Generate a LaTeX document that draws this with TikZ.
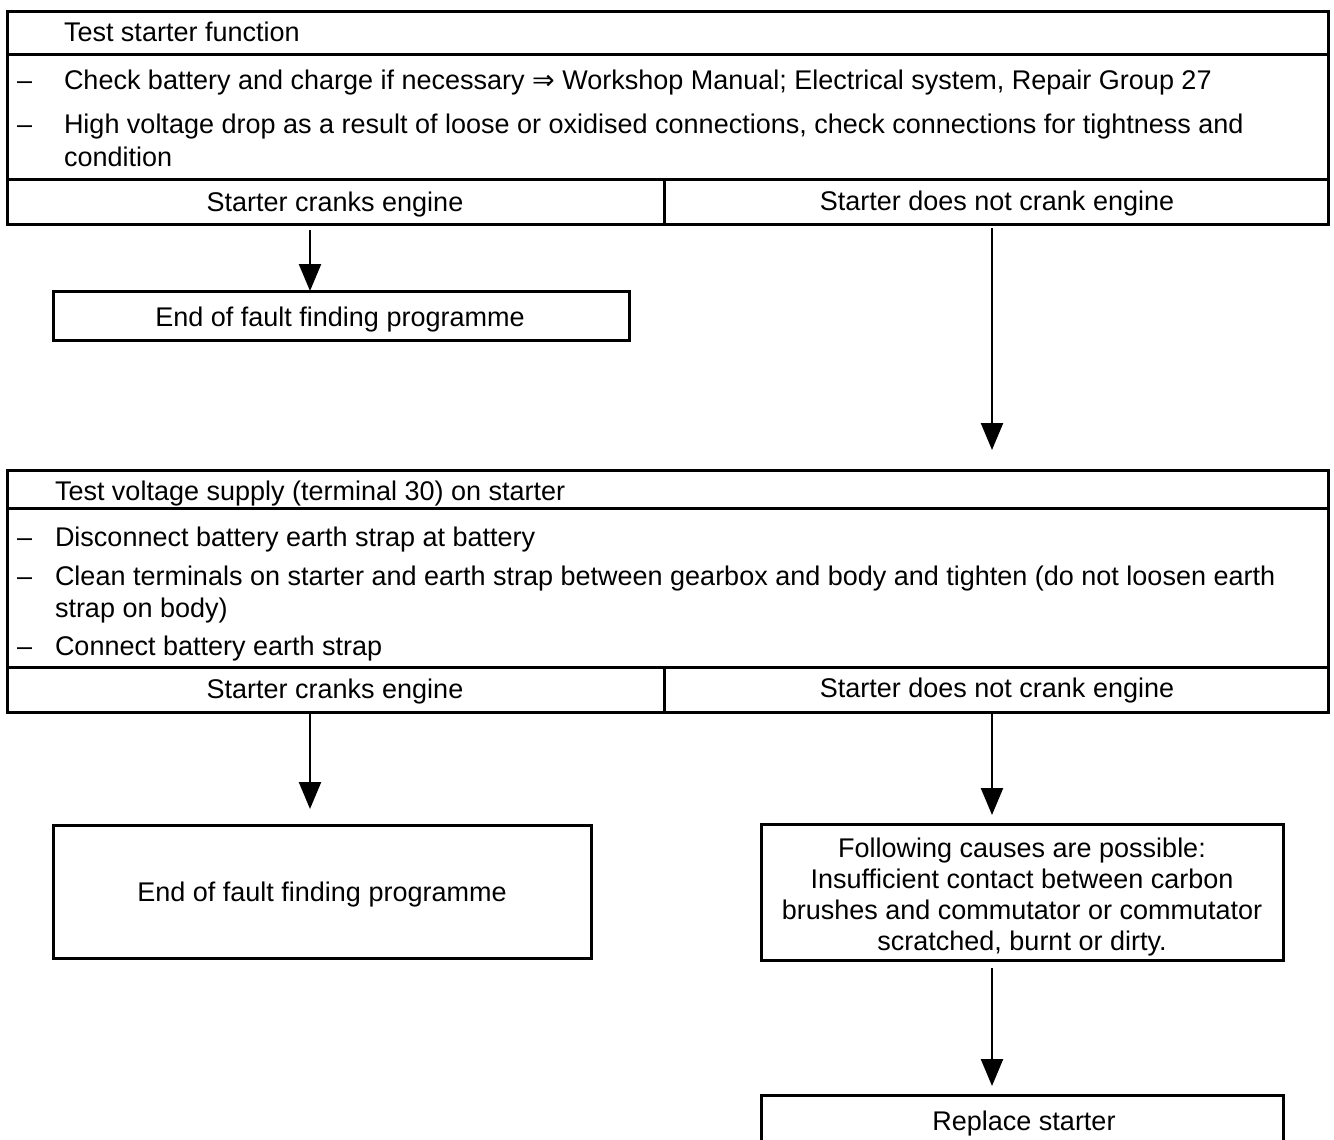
\documentclass[tikz,border=0pt]{standalone}
\usepackage{fontspec}
\setmainfont{Liberation Sans}
\usetikzlibrary{arrows.meta}
\newcommand\dfont{\fontsize{27}{31}\selectfont}
\begin{document}
\begin{tikzpicture}[x=1pt,y=-1pt,
  cell/.style={draw,line width=3pt,inner sep=0pt,outer sep=0pt,font=\dfont},
  lbl/.style={inner sep=0pt,outer sep=0pt,font=\dfont,align=center},
  txt/.style={anchor=base west,inner sep=0pt,outer sep=0pt,font=\dfont},
  arr/.style={line width=2.4pt,-{Triangle[length=27pt,width=22pt]}}]
\clip (0,0) rectangle (1334,1140);
\fill[white] (0,0) rectangle (1334,1140);
% ---- block 1
\node[cell,minimum width=1321pt,minimum height=43pt] (t1) at (667.5,33.5) {};
\node[cell,minimum width=1321pt,minimum height=124pt] (b1) at (667.5,117) {};
\node[cell,minimum width=657pt,minimum height=45pt] (s1l) at (335.5,201.5) {};
\node[cell,minimum width=664pt,minimum height=45pt] (s1r) at (996,201.5) {};
\node[txt,anchor=base] (s1lx) at (335,211) {Starter cranks engine};
\node[txt,anchor=base] (s1rx) at (997,210) {Starter does not crank engine};
\node[txt] (t1x) at (64,42) {Test starter function};
\node[txt] (d11) at (17,89) {–};
\node[txt] (b11) at (64,89) {Check battery and charge if necessary {\fontspec{DejaVu Sans}⇒} Workshop Manual; Electrical system, Repair Group 27};
\node[txt] (d12) at (17,133) {–};
\node[txt] (b12) at (64,133) {High voltage drop as a result of loose or oxidised connections, check connections for tightness and};
\node[txt] (b13) at (64,166) {condition};
% end box 1
\node[cell,minimum width=576pt,minimum height=49pt] (e1) at (341,315.5) {};
\node[txt,anchor=base] (e1x) at (340,326) {End of fault finding programme};
% ---- block 2
\node[cell,minimum width=1321pt,minimum height=38pt] (t2) at (667.5,489) {};
\node[cell,minimum width=1321pt,minimum height=159pt] (b2) at (667.5,587.5) {};
\node[cell,minimum width=657pt,minimum height=45pt] (s2l) at (335.5,689.5) {};
\node[cell,minimum width=664pt,minimum height=45pt] (s2r) at (996,689.5) {};
\node[txt,anchor=base] (s2lx) at (335,698) {Starter cranks engine};
\node[txt,anchor=base] (s2rx) at (997,697) {Starter does not crank engine};
\node[txt] (t2x) at (55,500) {Test voltage supply (terminal 30) on starter};
\node[txt] (d21) at (17,546) {–};
\node[txt] (b21) at (55,546) {Disconnect battery earth strap at battery};
\node[txt] (d22) at (17,585) {–};
\node[txt] (b22) at (55,585) {Clean terminals on starter and earth strap between gearbox and body and tighten (do not loosen earth};
\node[txt] (b23) at (55,617) {strap on body)};
\node[txt] (d24) at (17,655) {–};
\node[txt] (b24) at (55,655) {Connect battery earth strap};
% ---- bottom boxes
\node[cell,minimum width=538pt,minimum height=133pt] (e2) at (322,891.5) {};
\node[txt,anchor=base] (e2x) at (322,901) {End of fault finding programme};
\node[cell,minimum width=522pt,minimum height=136pt] (c2) at (1022,892) {};
\node[lbl] (c2x) at (1022,897) {Following causes are possible:\\Insufficient contact between carbon\\brushes and commutator or commutator\\scratched, burnt or dirty.};
\node[cell,minimum width=522pt,minimum height=52pt] (r2) at (1022,1121) {};
\node[txt,anchor=base] (r2x) at (1024,1130) {Replace starter};
% ---- connectors
\coordinate (a1) at (310,230);
\coordinate (a2) at (992,228);
\coordinate (a3) at (310,712);
\coordinate (a4) at (992,712);
\coordinate (a5) at (992,968);
\draw[arr] (a1) -- (a1 |- e1.north);
\draw[arr] (a2) -- ([yshift=20pt]a2 |- t2.north);
\draw[arr] (a3) -- ([yshift=16pt]a3 |- e2.north);
\draw[arr] (a4) -- ([yshift=9pt]a4 |- c2.north);
\draw[arr] (a5) -- ([yshift=9pt]a5 |- r2.north);
\end{tikzpicture}
\end{document}
